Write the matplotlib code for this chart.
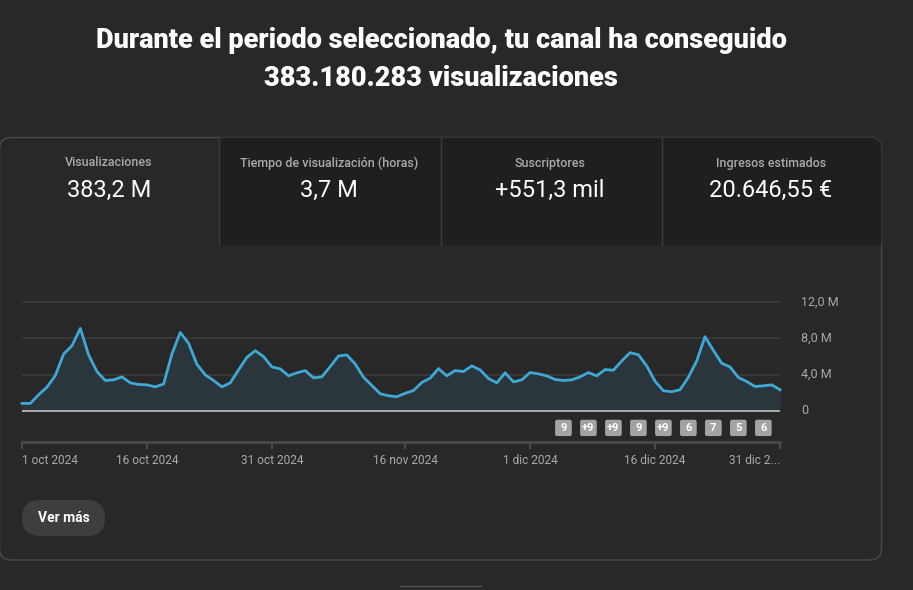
import pandas as pd
import matplotlib.pyplot as plt
import matplotlib.dates as mdates
from matplotlib.patches import FancyBboxPatch, Rectangle

plt.rcParams['font.family'] = ['Roboto', 'DejaVu Sans']

# Daily views (millions), 1 Oct - 31 Dec 2024
views = [0.84, 0.84, 1.79, 2.63, 3.90, 6.28, 7.19, 9.09, 6.17, 4.34,
         3.36, 3.43, 3.76, 3.10, 2.92, 2.88, 2.66, 2.96, 6.28, 8.65,
         7.45, 5.15, 3.98, 3.36, 2.66, 3.10, 4.53, 5.91, 6.64, 5.99,
         4.85, 4.64, 3.87, 4.20, 4.45, 3.65, 3.76, 4.89, 6.06, 6.17,
         5.18, 3.72, 2.81, 1.90, 1.68, 1.57, 1.95, 2.26, 3.14, 3.61,
         4.67, 3.87, 4.45, 4.34, 4.96, 4.53, 3.58, 3.10, 4.20, 3.21,
         3.43, 4.23, 4.09, 3.87, 3.47, 3.36, 3.43, 3.76, 4.23, 3.87,
         4.56, 4.49, 5.51, 6.42, 6.20, 4.96, 3.28, 2.23, 2.12, 2.34,
         3.72, 5.51, 8.18, 6.68, 5.26, 4.85, 3.69, 3.25, 2.70, 2.77,
         2.88, 2.34]
dates = pd.date_range('2024-10-01', '2024-12-31', freq='D')

tick_dates = pd.to_datetime(['2024-10-01', '2024-10-16', '2024-10-31', '2024-11-16',
                             '2024-12-01', '2024-12-16', '2024-12-31'])
tick_labels = ['1 oct 2024', '16 oct 2024', '31 oct 2024', '16 nov 2024',
               '1 dic 2024', '16 dic 2024', '31 dic 2...']
y_ticks = [0, 4, 8, 12]
y_labels = ['0', '4,0 M', '8,0 M', '12,0 M']

# content markers under the chart
badge_dates = pd.to_datetime(['2024-12-05', '2024-12-08', '2024-12-11', '2024-12-14',
                              '2024-12-17', '2024-12-20', '2024-12-23', '2024-12-26',
                              '2024-12-29'])
badge_labels = ['9', '+9', '+9', '9', '+9', '6', '7', '5', '6']

tab_titles = ['Visualizaciones', 'Tiempo de visualización (horas)', 'Suscriptores', 'Ingresos estimados']
tab_values = ['383,2 M', '3,7 M', '+551,3 mil', '20.646,55 €']

BG = '#282828'
W, H = 913, 590

fig = plt.figure(figsize=(W / 100, H / 100), dpi=100, facecolor=BG)

# page layer in pixel coordinates
bg = fig.add_axes([0, 0, 1, 1])
bg.set_xlim(0, W)
bg.set_ylim(H, 0)
bg.axis('off')

bg.text(441, 41, 'Durante el periodo seleccionado, tu canal ha conseguido',
        color='white', fontsize=19.5, fontweight='heavy', ha='center', va='center')
bg.text(441, 78, '383.180.283 visualizaciones',
        color='white', fontsize=19.5, fontweight='heavy', ha='center', va='center')

card = FancyBboxPatch((-0.5, 137.5), 882, 422.5, boxstyle='round,pad=0,rounding_size=12',
                      facecolor=BG, edgecolor='#4a4a4a', linewidth=1)
bg.add_patch(card)
dark = Rectangle((219, 137), 664, 108, facecolor='#1f1f1f', edgecolor='none')
bg.add_patch(dark)
dark.set_clip_path(card)
for xs in [218.5, 440.5, 661.5]:
    bg.plot([xs, xs], [138, 245], color='#3c3c3c', lw=1)

tab_centers = [109, 329, 550, 771]
for cx, t, v in zip(tab_centers, tab_titles, tab_values):
    bg.text(cx, 163, t, color='#aaaaaa', fontsize=9, fontweight='medium',
            ha='center', va='center')
    bg.text(cx, 190, v, color='white', fontsize=17, ha='center', va='center')

btn = FancyBboxPatch((22, 500), 83, 36, boxstyle='round,pad=0,rounding_size=18',
                     facecolor='#3e3e3e', edgecolor='none')
bg.add_patch(btn)
bg.text(63.5, 518, 'Ver más', color='white', fontsize=10, fontweight='bold',
        ha='center', va='center')
bg.plot([400, 481], [585.5, 585.5], color='#555555', lw=1)

# chart layer
px_per_m = (411 - 302) / 12
top_px, bot_px = 295, 442
ax = fig.add_axes([22 / W, (H - bot_px) / H, (780 - 22) / W, (bot_px - top_px) / H])
ax.set_facecolor('none')
ax.set_xlim(dates[0], dates[-1])
ax.set_ylim(-(bot_px - 411) / px_per_m, (411 - top_px) / px_per_m)

for yv in y_ticks[1:]:
    ax.axhline(yv, color='#3a3a3a', lw=1.3, zorder=1)
ax.fill_between(dates, views, 0, color='#2b363c', zorder=2)
ax.plot(dates, views, color='#3ea8d6', lw=2, zorder=3, clip_on=False)
ax.axhline(0, color='#b5b5b5', lw=1.3, zorder=4)

for d, lab in zip(badge_dates, badge_labels):
    x0 = mdates.date2num(d) - 1.0
    ax.add_patch(FancyBboxPatch((x0, -2.76), 2.0, 1.8,
                                boxstyle='round,pad=0,rounding_size=0.25',
                                mutation_aspect=1 / 1.09,
                                facecolor='#a3a3a3', edgecolor='none', zorder=5))
    ax.text(mdates.date2num(d), -1.86, lab, color='white', fontsize=8,
            fontweight='bold', ha='center', va='center', zorder=6)

for side in ['top', 'left', 'right']:
    ax.spines[side].set_visible(False)
ax.spines['bottom'].set_color('#4a4a4a')
ax.spines['bottom'].set_linewidth(2)
ax.set_yticks([])
ax.set_xticks(tick_dates)
ax.set_xticklabels(tick_labels)
ax.tick_params(axis='x', colors='#4a4a4a', length=5, width=1.5, pad=3.5,
               labelcolor='#aaaaaa', labelsize=8.6)
labels = ax.get_xticklabels()
labels[0].set_ha('left')
labels[-1].set_ha('right')

for yv, lab in zip(y_ticks, y_labels):
    bg.text(801, 411 - yv * px_per_m, lab, color='#aaaaaa', fontsize=9,
            ha='left', va='center')

fig.savefig('out.png', dpi=100, facecolor=BG)
